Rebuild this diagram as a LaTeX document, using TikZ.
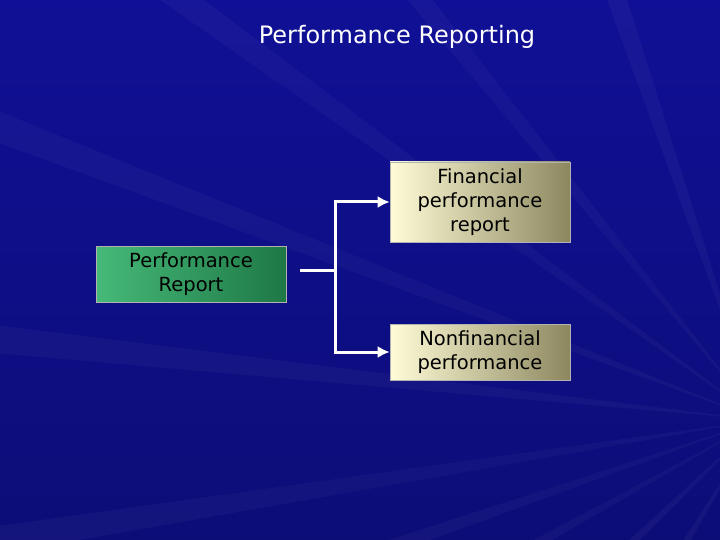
\documentclass[tikz,border=0pt]{standalone}
\usepackage{fontspec}
\setmainfont{DejaVu Sans}
\definecolor{bgblue}{RGB}{16,16,150}
\definecolor{bgdark}{RGB}{8,8,90}
\definecolor{finL}{RGB}{255,252,215}
\definecolor{finR}{RGB}{140,135,95}
\definecolor{grnL}{RGB}{70,185,120}
\definecolor{grnR}{RGB}{30,120,70}
\begin{document}
\begin{tikzpicture}[x=1pt,y=-1pt,
  box/.style={draw=gray!60,line width=0.6pt,minimum width=180pt,align=center,font=\fontsize{19.5}{24}\selectfont,text=black,inner sep=1pt},
  conn/.style={draw=white,line width=3pt},
  arr/.style={conn,-{Latex[length=12pt,width=12pt]}}]
\usetikzlibrary{arrows.meta}
\useasboundingbox (0,0) rectangle (720,540);
\shade[top color=bgblue,bottom color=bgblue!80!black] (0,0) rectangle (720,540);
\foreach \a in {150,160,170,185,200,215,230}{
  \fill[white,opacity=0.03] (760,420) -- ++(\a:1100) -- ++(\a+90:40) -- cycle;}
\foreach \a in {120,135,250,265}{
  \fill[white,opacity=0.035] (760,420) -- ++(\a:700) -- ++(\a+90:30) -- cycle;}
\node[text=white,font=\fontsize{24}{28}\selectfont] (title) at (397,37) {Performance Reporting};
\node[box,left color=finL,right color=finR,minimum height=80pt] (fin) at (480,202) {Financial\\performance\\report};
\node[box,left color=grnL,right color=grnR,minimum width=190pt,minimum height=56pt] (perf) at (191,274) {Performance\\Report};
\node[box,left color=finL,right color=finR,minimum height=56pt] (non) at (480,352) {Nonfinancial\\performance};
\coordinate (s) at (300,270);
\coordinate (j) at (335,270);
\draw[conn] (s) -- (j);
\draw[arr] (j) |- (fin.west);
\draw[arr] (j) |- (non.west);
\end{tikzpicture}
\end{document}
